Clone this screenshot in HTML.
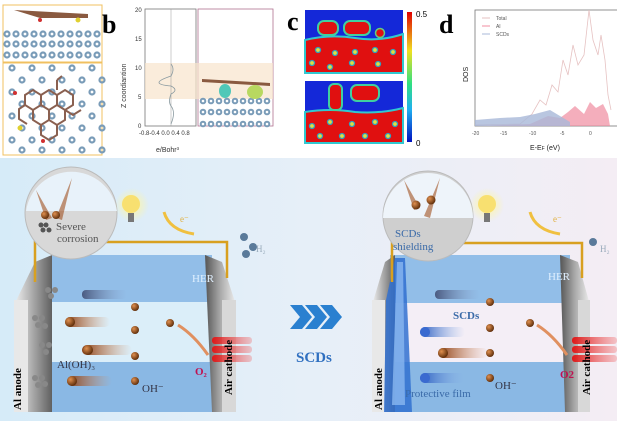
<!DOCTYPE html>
<html><head><meta charset="utf-8"><style>
html,body{margin:0;padding:0;background:#fff;}
svg{display:block;font-family:"Liberation Serif",serif;}
</style></head><body>
<svg width="617" height="421" viewBox="0 0 617 421" xmlns="http://www.w3.org/2000/svg">
<defs>
<linearGradient id="bg" x1="0" x2="1" y1="0" y2="0"><stop offset="0" stop-color="#d6ebf8"/><stop offset="0.5" stop-color="#e6eff8"/><stop offset="1" stop-color="#f4edf4"/></linearGradient>
<linearGradient id="gray" x1="0" x2="1"><stop offset="0" stop-color="#f2f2f2"/><stop offset="0.5" stop-color="#a8a8a8"/><stop offset="1" stop-color="#606060"/></linearGradient>
<linearGradient id="grayR" x1="0" x2="1"><stop offset="0" stop-color="#555"/><stop offset="0.5" stop-color="#aaa"/><stop offset="1" stop-color="#eee"/></linearGradient>
<linearGradient id="trail" x1="0" x2="1"><stop offset="0" stop-color="#8a3c10"/><stop offset="1" stop-color="#d89060" stop-opacity="0"/></linearGradient>
<linearGradient id="trailB" x1="0" x2="1"><stop offset="0" stop-color="#2a5cc0"/><stop offset="1" stop-color="#8ab0e8" stop-opacity="0"/></linearGradient>
<linearGradient id="trailG" x1="0" x2="1"><stop offset="0" stop-color="#4a5a80"/><stop offset="1" stop-color="#8aa0c8" stop-opacity="0"/></linearGradient>
<linearGradient id="red" x1="0" x2="1"><stop offset="0" stop-color="#e01818"/><stop offset="1" stop-color="#f06060" stop-opacity="0.3"/></linearGradient>
<radialGradient id="ball" cx="0.35" cy="0.35" r="0.7"><stop offset="0" stop-color="#e09050"/><stop offset="1" stop-color="#5a2a08"/></radialGradient>
<radialGradient id="glow" cx="0.5" cy="0.5" r="0.5"><stop offset="0" stop-color="#fff6a0"/><stop offset="1" stop-color="#fff6a0" stop-opacity="0"/></radialGradient>
<linearGradient id="cb" x1="0" y1="0" x2="0" y2="1"><stop offset="0" stop-color="#e00000"/><stop offset="0.3" stop-color="#f0e020"/><stop offset="0.55" stop-color="#30e080"/><stop offset="0.75" stop-color="#20b0f0"/><stop offset="1" stop-color="#0010c0"/></linearGradient>
</defs>
<rect width="617" height="421" fill="#fff"/>
<rect x="0" y="158" width="617" height="263" fill="url(#bg)"/>

<!-- panel a -->
<rect x="3" y="5" width="99" height="57" fill="#fff" stroke="#f0c060"/>
<rect x="3" y="63" width="99" height="92" fill="#fff" stroke="#f0c060"/>
<g fill="none" stroke="#7a9cb8" stroke-width="2.2">
<g id="row"><circle cx="7" cy="34" r="2.5"/><circle cx="16" cy="34" r="2.5"/><circle cx="25" cy="34" r="2.5"/><circle cx="34" cy="34" r="2.5"/><circle cx="43" cy="34" r="2.5"/><circle cx="52" cy="34" r="2.5"/><circle cx="61" cy="34" r="2.5"/><circle cx="70" cy="34" r="2.5"/><circle cx="79" cy="34" r="2.5"/><circle cx="88" cy="34" r="2.5"/><circle cx="97" cy="34" r="2.5"/></g>
<use href="#row" y="10"/><use href="#row" y="21"/>
</g>
<g fill="none" stroke="#7a9cb8" stroke-width="2.2">
<g id="row2"><circle cx="12" cy="68" r="2.5"/><circle cx="32" cy="68" r="2.5"/><circle cx="52" cy="68" r="2.5"/><circle cx="72" cy="68" r="2.5"/><circle cx="92" cy="68" r="2.5"/></g>
<use href="#row2" x="10" y="12"/><use href="#row2" y="24"/><use href="#row2" x="10" y="36"/><use href="#row2" y="48"/><use href="#row2" x="10" y="60"/><use href="#row2" y="72"/><use href="#row2" x="10" y="82"/>
</g>
<path d="M14 10 L88 14 L88 18 L40 18 Z" fill="#8a5a40"/>
<circle cx="40" cy="20" r="2" fill="#d03030"/>
<circle cx="78" cy="20" r="2.5" fill="#e0d030"/>
<g fill="none" stroke="#8a6050" stroke-width="2">
<path d="M25 95 l8 -5 l8 5 v10 l-8 5 l-8 -5z M41 95 l8 -5 l8 5 v10 l-8 5 l-8 -5 M57 95 l8 -5 l8 5 v10 l-8 5 l-8 -5 M33 110 v10 l8 5 l8 -5 v-10 M49 110 v10 l8 5 l8 -5 v-10 M65 110 l8 5 l8 -5 M41 125 v10 l8 5 l8 -5 v-10 M25 105 l-6 4 v10 l8 5 M57 80 v10 M57 80 l5 -4"/>
</g>
<circle cx="15" cy="93" r="2" fill="#d03030"/><circle cx="20" cy="128" r="2.5" fill="#e0d030"/><circle cx="43" cy="141" r="2" fill="#d03030"/>

<!-- panel b -->
<text x="102" y="33" font-size="26" font-weight="bold">b</text>
<rect x="145" y="9" width="51" height="117" fill="none" stroke="#777" stroke-width="0.8"/>
<rect x="198" y="9" width="75" height="117" fill="none" stroke="#b07090" stroke-width="0.8"/>
<rect x="145" y="63" width="128" height="36" fill="#f8e4cc" opacity="0.7"/>
<line x1="171" y1="9" x2="171" y2="126" stroke="#999" stroke-width="0.5"/>
<path d="M171 64 q4 5 0 12 q-24 8 0 10 q8 4 0 8 q-3 8 0 12 q5 6 0 18" fill="none" stroke="#8a9aa0" stroke-width="0.8"/>
<g font-family="Liberation Sans,sans-serif" font-size="6" fill="#333">
<text x="135" y="12">20</text><text x="135" y="41">15</text><text x="135" y="70">10</text><text x="138" y="99">5</text><text x="138" y="128">0</text>
<text x="139" y="135">-0.8-0.4 0.0 0.4 0.8</text>
<text x="156" y="152" font-size="7">e/Bohr³</text>
<text transform="translate(126,108) rotate(-90)" font-size="7">Z coordiantion</text>
</g>
<g fill="none" stroke="#7a9cb8" stroke-width="2">
<g id="rb"><circle cx="203" cy="101" r="2.3"/><circle cx="211" cy="101" r="2.3"/><circle cx="219" cy="101" r="2.3"/><circle cx="227" cy="101" r="2.3"/><circle cx="235" cy="101" r="2.3"/><circle cx="243" cy="101" r="2.3"/><circle cx="251" cy="101" r="2.3"/><circle cx="259" cy="101" r="2.3"/><circle cx="267" cy="101" r="2.3"/></g>
<use href="#rb" y="11"/><use href="#rb" y="23"/></g>
<path d="M202 79 L270 83 L270 86 L202 82Z" fill="#8a5a40"/>
<ellipse cx="225" cy="91" rx="6" ry="7" fill="#50c8b8"/><ellipse cx="255" cy="92" rx="8" ry="7" fill="#b8d860"/>

<!-- panel c -->
<text x="287" y="30" font-size="26" font-weight="bold">c</text>
<rect x="305" y="10" width="98" height="63" fill="#1428d8"/>
<path d="M305 40 q25 -6 50 -2 q25 4 48 -4 v39 h-98z" fill="#e01010" stroke="#30c8d0" stroke-width="2"/>
<rect x="318" y="21" width="20" height="14" rx="6" fill="#e01010" stroke="#40d0a0" stroke-width="2"/>
<rect x="344" y="21" width="26" height="14" rx="6" fill="#e01010" stroke="#40d0a0" stroke-width="2"/>
<circle cx="380" cy="33" r="4.5" fill="#e01010" stroke="#60d080" stroke-width="1.5"/>
<rect x="305" y="81" width="98" height="62" fill="#1428d8"/>
<path d="M305 112 q25 -4 50 0 q25 2 48 -4 v35 h-98z" fill="#e01010" stroke="#30c8d0" stroke-width="2"/>
<rect x="329" y="84" width="13" height="26" rx="5" fill="#e01010" stroke="#40d0a0" stroke-width="2"/>
<rect x="351" y="85" width="28" height="16" rx="6" fill="#e01010" stroke="#40d0a0" stroke-width="2"/>
<g fill="#e0e040" stroke="#30a0c0" stroke-width="1.3">
<circle cx="318" cy="50" r="2.5"/><circle cx="335" cy="53" r="2.5"/><circle cx="355" cy="52" r="2.5"/><circle cx="375" cy="50" r="2.5"/><circle cx="393" cy="52" r="2.5"/><circle cx="312" cy="63" r="2.5"/><circle cx="330" cy="67" r="2.5"/><circle cx="352" cy="63" r="2.5"/><circle cx="378" cy="64" r="2.5"/>
<circle cx="312" cy="126" r="2.5"/><circle cx="330" cy="122" r="2.5"/><circle cx="352" cy="124" r="2.5"/><circle cx="375" cy="122" r="2.5"/><circle cx="395" cy="124" r="2.5"/><circle cx="320" cy="136" r="2.5"/><circle cx="342" cy="136" r="2.5"/><circle cx="365" cy="136" r="2.5"/><circle cx="388" cy="136" r="2.5"/>
</g>
<rect x="407" y="12" width="5" height="130" fill="url(#cb)"/>
<g font-family="Liberation Sans,sans-serif" font-size="8"><text x="416" y="17">0.5</text><text x="416" y="146">0</text></g>

<!-- panel d -->
<text x="439" y="33" font-size="26" font-weight="bold">d</text>
<rect x="475" y="10" width="145" height="116" fill="none" stroke="#777" stroke-width="0.8"/>
<path d="M475 125 L520 124 L532 114 L540 100 L546 105 L552 85 L558 92 L563 60 L568 75 L573 45 L578 65 L584 55 L589 10 L593 40 L598 55 L601 35 L605 60 L608 95 L611 110" fill="none" stroke="#e6c2c2" stroke-width="0.8"/>
<path d="M475 126 L530 124 L548 116 L560 118 L568 112 L575 106 L584 114 L590 102 L596 108 L603 104 L608 114 L610 126Z" fill="#f08ca0" opacity="0.7"/>
<path d="M475 126 L475 120 L500 118 L520 117 L535 114 L550 110 L560 116 L570 122 V126Z" fill="#a8b8d8" opacity="0.8"/>
<g font-family="Liberation Sans,sans-serif" font-size="5" fill="#555">
<line x1="482" y1="18" x2="490" y2="18" stroke="#e6c2c2"/><text x="496" y="20">Total</text>
<line x1="482" y1="26" x2="490" y2="26" stroke="#f08ca0"/><text x="496" y="28">Al</text>
<line x1="482" y1="34" x2="490" y2="34" stroke="#a8b8d8"/><text x="496" y="36">SCDs</text>
<text x="472" y="135">-20</text><text x="500" y="135">-15</text><text x="529" y="135">-10</text><text x="560" y="135">-5</text><text x="589" y="135">0</text>
<text x="530" y="150" font-size="7" fill="#222">E-E<tspan font-size="5">F</tspan> (eV)</text>
<text transform="translate(468,82) rotate(-90)" font-size="7" fill="#222">DOS</text>
</g>

<!-- LEFT CELL -->
<rect x="52" y="255" width="160" height="48" fill="#92bee8"/>
<rect x="52" y="302" width="160" height="60" fill="#dbeef9"/>
<rect x="40" y="362" width="172" height="50" fill="#8ab8e4"/>
<polygon points="14,305 35,262 52,255 52,412 14,412" fill="url(#gray)"/>
<rect x="14" y="300" width="14" height="112" fill="#e8e8e8"/>
<polygon points="205,255 222,262 236,305 236,412 212,412" fill="url(#grayR)"/>
<rect x="222" y="300" width="14" height="112" fill="#d8d8d8"/>
<path d="M35 282 V242 H227 V278" fill="none" stroke="#d8a020" stroke-width="2.5"/>
<circle cx="71" cy="213" r="46" fill="#d8d8d8" stroke="#bbb"/>
<path d="M26 211 A46 46 0 0 1 117 211Z" fill="#e8f2fa"/>
<path d="M36 190 l10 30 l6 -2z M72 178 l-16 40 l6 2z" fill="#a05020" opacity="0.6"/>
<circle cx="45" cy="215" r="4" fill="url(#ball)"/><circle cx="56" cy="215" r="4" fill="url(#ball)"/>
<g fill="#555"><circle cx="41" cy="225" r="2.5"/><circle cx="46" cy="225" r="2.5"/><circle cx="43" cy="230" r="2.5"/><circle cx="49" cy="230" r="2.5"/></g>
<text x="56" y="230" font-size="11" fill="#555">Severe</text>
<text x="57" y="242" font-size="11" fill="#555">corrosion</text>
<circle cx="132" cy="205" r="17" fill="url(#glow)"/>
<circle cx="131" cy="204" r="9" fill="#f8e070"/><rect x="128" y="213" width="6" height="9" fill="#777"/>
<path d="M164 212 q5 18 30 22" fill="none" stroke="#f0c040" stroke-width="3"/>
<text x="180" y="222" font-size="9" fill="#e0b040">e⁻</text>
<circle cx="244" cy="237" r="4" fill="#5a7a9a"/><circle cx="253" cy="247" r="4" fill="#5a7a9a"/><circle cx="246" cy="254" r="4" fill="#5a7a9a"/>
<text x="256" y="252" font-size="9" fill="#9ab">H₂</text>
<text x="192" y="282" font-size="11" fill="#e0f0ff">HER</text>
<g fill="#888"><circle cx="35" cy="318" r="3"/><circle cx="42" cy="318" r="3"/><circle cx="38" cy="325" r="3"/><circle cx="45" cy="326" r="3"/><circle cx="42" cy="345" r="3"/><circle cx="49" cy="345" r="3"/><circle cx="46" cy="352" r="3"/><circle cx="35" cy="378" r="3"/><circle cx="42" cy="378" r="3"/><circle cx="38" cy="385" r="3"/><circle cx="45" cy="384" r="3"/><circle cx="48" cy="290" r="3"/><circle cx="55" cy="290" r="3"/><circle cx="51" cy="296" r="3"/></g>
<text transform="translate(21,410) rotate(-90)" font-size="11" font-weight="bold">Al anode</text>
<text x="57" y="368" font-size="11" fill="#334">Al(OH)₃</text>
<rect x="82" y="290" width="45" height="9" rx="4" fill="url(#trailG)"/>
<rect x="65" y="317" width="45" height="10" rx="5" fill="url(#trail)"/><circle cx="70" cy="322" r="5" fill="url(#ball)"/>
<rect x="82" y="345" width="50" height="10" rx="5" fill="url(#trail)"/><circle cx="88" cy="350" r="5" fill="url(#ball)"/>
<rect x="67" y="376" width="45" height="10" rx="5" fill="url(#trail)"/><circle cx="72" cy="381" r="5" fill="url(#ball)"/>
<g><circle cx="135" cy="307" r="4" fill="url(#ball)"/><circle cx="135" cy="330" r="4" fill="url(#ball)"/><circle cx="135" cy="356" r="4" fill="url(#ball)"/><circle cx="135" cy="381" r="4" fill="url(#ball)"/><circle cx="170" cy="323" r="4" fill="url(#ball)"/></g>
<text x="142" y="392" font-size="11" fill="#334">OH⁻</text>
<path d="M208 355 q-14 -20 -30 -30" fill="none" stroke="#e09060" stroke-width="3"/>
<g fill="url(#red)"><rect x="212" y="337" width="40" height="7" rx="3"/><rect x="212" y="346" width="40" height="7" rx="3"/><rect x="212" y="355" width="40" height="7" rx="3"/></g>
<text x="195" y="375" font-size="11" fill="#c01050" font-weight="bold">O₂</text>
<text transform="translate(232,395) rotate(-90)" font-size="11" font-weight="bold">Air cathode</text>

<!-- middle arrows -->
<g fill="#2a80d0"><path d="M290 305 l12 0 l10 12 l-10 12 l-12 0 l10 -12z"/><path d="M305 305 l12 0 l10 12 l-10 12 l-12 0 l10 -12z"/><path d="M320 305 l12 0 l10 12 l-10 12 l-12 0 l10 -12z"/></g>
<text x="296" y="362" font-size="15" font-weight="bold" fill="#3070c0">SCDs</text>

<!-- RIGHT CELL -->
<rect x="390" y="255" width="180" height="48" fill="#92bee8"/>
<rect x="390" y="303" width="180" height="59" fill="#f4eef6"/>
<rect x="385" y="362" width="185" height="50" fill="#8ab8e4"/>
<polygon points="372,305 385,262 395,255 395,412 372,412" fill="url(#gray)"/>
<rect x="372" y="300" width="13" height="112" fill="#e8e8e8"/>
<polygon points="560,255 578,262 590,305 590,412 565,412" fill="url(#grayR)"/>
<rect x="578" y="300" width="12" height="112" fill="#d8d8d8"/>
<path d="M395 258 L405 258 L412 412 L384 412 L386 300Z" fill="#3070d0" opacity="0.85"/>
<path d="M397 262 L403 262 L405 405 L392 405Z" fill="#8ab8f0" opacity="0.8"/>
<path d="M392 282 V243 H582 V278" fill="none" stroke="#d8a020" stroke-width="2.5"/>
<circle cx="428" cy="216" r="45" fill="#cfcfcf" stroke="#bbb"/>
<path d="M383 218 A45 45 0 0 1 473 218Z" fill="#eef4fa"/>
<path d="M404 180 l10 30 l6 -2z M440 178 l-16 38 l6 2z" fill="#a05020" opacity="0.6"/>
<circle cx="416" cy="205" r="4.5" fill="url(#ball)"/><circle cx="431" cy="200" r="4.5" fill="url(#ball)"/>
<text x="395" y="237" font-size="11" fill="#3a6aa8">SCDs</text>
<text x="393" y="250" font-size="11" fill="#3a6aa8">shielding</text>
<circle cx="487" cy="205" r="17" fill="url(#glow)"/>
<circle cx="487" cy="204" r="9" fill="#f8e070"/><rect x="484" y="213" width="6" height="9" fill="#777"/>
<path d="M530 212 q5 18 30 22" fill="none" stroke="#f0c040" stroke-width="3"/>
<text x="553" y="222" font-size="9" fill="#e0b040">e⁻</text>
<circle cx="593" cy="242" r="4" fill="#5a7a9a"/>
<text x="600" y="252" font-size="9" fill="#9ab">H₂</text>
<text x="548" y="280" font-size="11" fill="#e0f0ff">HER</text>
<text transform="translate(382,410) rotate(-90)" font-size="11" font-weight="bold">Al anode</text>
<rect x="435" y="290" width="45" height="9" rx="4" fill="url(#trailG)"/>
<rect x="420" y="327" width="45" height="10" rx="5" fill="url(#trailB)"/><circle cx="425" cy="332" r="5" fill="#3a6ad0"/>
<rect x="438" y="348" width="50" height="10" rx="5" fill="url(#trail)"/><circle cx="443" cy="353" r="5" fill="url(#ball)"/>
<rect x="420" y="373" width="45" height="10" rx="5" fill="url(#trailB)"/><circle cx="425" cy="378" r="5" fill="#3a6ad0"/>
<text x="453" y="319" font-size="11" font-weight="bold" fill="#3a6aa8">SCDs</text>
<g><circle cx="490" cy="302" r="4" fill="url(#ball)"/><circle cx="490" cy="328" r="4" fill="url(#ball)"/><circle cx="490" cy="353" r="4" fill="url(#ball)"/><circle cx="490" cy="378" r="4" fill="url(#ball)"/><circle cx="530" cy="323" r="4" fill="url(#ball)"/></g>
<text x="495" y="389" font-size="11" fill="#334">OH⁻</text>
<text x="405" y="397" font-size="11" fill="#3a6aa8">Protective film</text>
<path d="M567 355 q-14 -20 -30 -30" fill="none" stroke="#e09060" stroke-width="3"/>
<g fill="url(#red)"><rect x="572" y="337" width="45" height="7" rx="3"/><rect x="572" y="346" width="45" height="7" rx="3"/><rect x="572" y="355" width="45" height="7" rx="3"/></g>
<text x="560" y="378" font-size="11" fill="#c01050" font-weight="bold">O2</text>
<text transform="translate(590,395) rotate(-90)" font-size="11" font-weight="bold">Air cathode</text>
</svg>
</body></html>
